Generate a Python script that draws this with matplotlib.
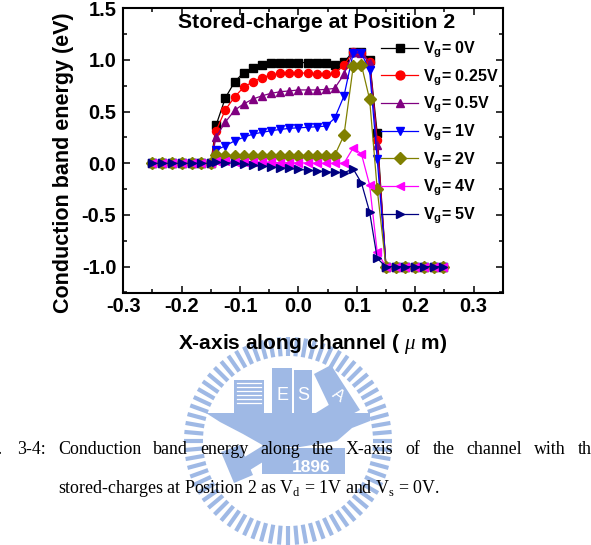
import matplotlib
matplotlib.use("Agg")
import matplotlib.pyplot as plt
from matplotlib.patches import Polygon, Rectangle
from matplotlib.ticker import MultipleLocator
import numpy as np

plt.rcParams['font.family'] = ['Liberation Sans', 'DejaVu Sans']
plt.rcParams['mathtext.fontset'] = 'custom'
plt.rcParams['mathtext.rm'] = 'Liberation Serif'
plt.rcParams['mathtext.it'] = 'Liberation Serif:italic'
plt.rcParams['mathtext.bf'] = 'Liberation Sans:bold'
plt.rcParams['mathtext.default'] = 'bf'

# position along the channel (um)
x_um = [-0.25, -0.233, -0.217, -0.2, -0.183, -0.167, -0.15,
        -0.141, -0.125, -0.109, -0.094, -0.078, -0.062, -0.047, -0.031, -0.016,
        0.0, 0.016, 0.031, 0.047, 0.062, 0.078, 0.094, 0.108, 0.122, 0.135,
        0.15, 0.167, 0.183, 0.2, 0.216, 0.232, 0.247]

# conduction band energy (eV) for each gate voltage
ec_0v = [0, 0, 0, 0, 0, 0, 0,
         0.37, 0.635, 0.79, 0.877, 0.925, 0.955, 0.967, 0.973, 0.975,
         0.975, 0.975, 0.97, 0.967, 0.955, 0.98, 1.08, 1.08, 1.0, 0.29,
         -1.0, -1.0, -1.0, -1.0, -1.0, -1.0, -1.0]
ec_025v = [0, 0, 0, 0, 0, 0, 0,
           0.315, 0.52, 0.644, 0.735, 0.79, 0.83, 0.855, 0.87, 0.877,
           0.877, 0.87, 0.865, 0.86, 0.87, 0.95, 1.08, 1.07, 0.98, 0.225,
           -1.0, -1.0, -1.0, -1.0, -1.0, -1.0, -1.0]
ec_05v = [0, 0, 0, 0, 0, 0, 0,
          0.257, 0.40, 0.515, 0.574, 0.622, 0.654, 0.677, 0.693, 0.70,
          0.71, 0.71, 0.71, 0.715, 0.725, 0.86, 1.08, 1.07, 0.97, 0.18,
          -1.0, -1.0, -1.0, -1.0, -1.0, -1.0, -1.0]
ec_1v = [0, 0, 0, 0, 0, 0, 0,
         0.128, 0.17, 0.218, 0.251, 0.283, 0.30, 0.315, 0.328, 0.338,
         0.344, 0.348, 0.354, 0.36, 0.435, 0.65, 1.07, 1.065, 0.90, 0.04,
         -1.0, -1.0, -1.0, -1.0, -1.0, -1.0, -1.0]
ec_2v = [0, 0, 0, 0, 0, 0, 0,
         0.08, 0.075, 0.073, 0.073, 0.073, 0.073, 0.073, 0.073, 0.073,
         0.073, 0.073, 0.073, 0.073, 0.075, 0.27, 0.94, 0.95, 0.62, -0.25,
         -1.0, -1.0, -1.0, -1.0, -1.0, -1.0, -1.0]
ec_4v = [0, 0, 0, 0, 0, 0, 0,
         0.02, 0.018, 0.015, 0.013, 0.012, 0.01, 0.008, 0.006, 0.005,
         0.004, 0.003, 0.002, 0.0, 0.0, 0.0, 0.15, 0.09, -0.21, -0.86,
         -1.0, -1.0, -1.0, -1.0, -1.0, -1.0, -1.0]
ec_5v = [0, 0, 0, 0, 0, 0, 0,
         0.01, 0.006, 0.0, -0.01, -0.017, -0.026, -0.033, -0.043, -0.049,
         -0.059, -0.065, -0.075, -0.081, -0.088, -0.09, -0.055, -0.19, -0.47, -0.92,
         -1.0, -1.0, -1.0, -1.0, -1.0, -1.0, -1.0]

series = [ec_0v, ec_025v, ec_05v, ec_1v, ec_2v, ec_4v, ec_5v]
labels = ['V$_g$= 0V', 'V$_g$= 0.25V', 'V$_g$= 0.5V', 'V$_g$= 1V',
          'V$_g$= 2V', 'V$_g$= 4V', 'V$_g$= 5V']
colors = ['#000000', '#ff0000', '#800080', '#0000ff', '#808000', '#ff00ff', '#000080']
markers = ['s', 'o', '^', 'v', 'D', '<', '>']

xticks = [-0.3, -0.2, -0.1, 0.0, 0.1, 0.2, 0.3]
xtick_labels = ['-0.3', '-0.2', '-0.1', '0.0', '0.1', '0.2', '0.3']
yticks = [-1.0, -0.5, 0.0, 0.5, 1.0, 1.5]
ytick_labels = ['-1.0', '-0.5', '0.0', '0.5', '1.0', '1.5']

W, H = 591, 545
fig = plt.figure(figsize=(W / 100, H / 100), dpi=100)

# watermark logo in the background (pixel coords)
bg = fig.add_axes([0, 0, 1, 1], zorder=0)
bg.set_xlim(0, W)
bg.set_ylim(H, 0)
bg.axis('off')
logo = '#9fb9e5'
cx, cy = 288, 441
for a in np.linspace(0, 2 * np.pi, 72, endpoint=False):
    bg.plot([cx + 85 * np.cos(a), cx + 104 * np.cos(a)],
            [cy + 85 * np.sin(a), cy + 104 * np.sin(a)],
            color=logo, lw=3.0, solid_capstyle='butt')
bg.add_patch(Rectangle((234, 380), 30, 37, color=logo, lw=0))
for yy in range(383, 405, 4):
    bg.plot([237, 261], [yy, yy], color='white', lw=0.9)
bg.add_patch(Rectangle((272, 368), 20, 49, color=logo, lw=0))
bg.add_patch(Rectangle((294, 370), 18, 47, color=logo, lw=0))
bg.add_patch(Polygon([(314, 374), (331, 365), (360, 410), (337, 422)], color=logo, lw=0))
bg.text(282, 396, 'E', color='white', ha='center', va='center', fontsize=13)
bg.text(303, 396, 'S', color='white', ha='center', va='center', fontsize=13)
bg.text(338, 396, 'A', color='white', ha='center', va='center', fontsize=12, rotation=-35)
bg.add_patch(Polygon([(206, 413), (370, 413), (370, 421), (352, 428), (337, 441),
                      (300, 447), (266, 447), (243, 434), (220, 422)], color=logo, lw=0))
bg.add_patch(Polygon([(262, 448), (345, 448), (345, 474), (262, 474)], color=logo, lw=0))
bg.plot([240, 350], [468, 400], color=logo, lw=10, solid_capstyle='butt')
bg.add_patch(Polygon([(221, 452), (240, 445), (253, 475), (234, 483)], color=logo, lw=0))
bg.text(311, 468, '1896', color='white', ha='center', va='center', fontsize=12.5,
        fontweight='bold')

ax = fig.add_axes([123.3 / W, 1 - 292.5 / H, 379.4 / W, 284.2 / H], zorder=2)
ax.patch.set_alpha(0)

for ys, lab, c, m in zip(series, labels, colors, markers):
    ax.plot(x_um, ys, color=c, marker=m, markersize=5.8, lw=0.9, label=lab)

ax.set_xlim(-0.3, 0.35)
ax.set_ylim(-1.25, 1.5)
ax.set_xticks(xticks)
ax.set_xticklabels(xtick_labels)
ax.set_yticks(yticks)
ax.set_yticklabels(ytick_labels)
ax.xaxis.set_minor_locator(MultipleLocator(0.05))
ax.yaxis.set_minor_locator(MultipleLocator(0.25))
ax.tick_params(which='both', direction='in', top=True, right=True, width=1.1)
ax.tick_params(which='major', length=5, labelsize=14.5, pad=3)
ax.tick_params(which='minor', length=3)
ax.tick_params(axis='y', which='major', pad=5)
for t in ax.get_xticklabels() + ax.get_yticklabels():
    t.set_fontweight('bold')
for s in ax.spines.values():
    s.set_linewidth(1.5)

ax.set_xlabel(r'X-axis along channel ( $\mathit{\mu}$ m)', fontsize=15, fontweight='bold')
ax.xaxis.set_label_coords(0.5, -0.14)
ax.set_ylabel('Conduction band energy (eV)', fontsize=15.5, fontweight='bold')
ax.yaxis.set_label_coords(-0.13, 0.457)
ax.text(0.509, 0.9296, 'Stored-charge at Position 2', transform=ax.transAxes,
        ha='center', va='baseline', fontsize=15.3, fontweight='bold')

leg = ax.legend(loc='upper left', bbox_to_anchor=(0.68, 0.89), frameon=False,
                prop={'weight': 'bold', 'size': 11.5}, handlelength=2.3,
                handletextpad=0.3, labelspacing=0.44, borderpad=0, borderaxespad=0,
                markerscale=1.1)

# caption: first line is justified, so its words are spread with equal gaps
cap_kw = dict(family='Liberation Serif', fontsize=12.9, va='baseline', zorder=3)
fig.text(3 / W, 1 - 454 / H, 'Fig.', ha='right', **cap_kw)
fig.text(17 / W, 1 - 454 / H, '3-4:', ha='left', **cap_kw)
line1 = ['Conduction', 'band', 'energy', 'along', 'the', 'X-axis',
         'of', 'the', 'channel', 'with', 'the']
renderer = fig.canvas.get_renderer()
word_w = []
for w in line1:
    t = fig.text(0, 0, w, ha='left', **cap_kw)
    word_w.append(t.get_window_extent(renderer).width)
    t.remove()
gap = (346 - 58 - sum(word_w[:5])) / 5
xp = 58
for w, ww in zip(line1, word_w):
    fig.text(xp / W, 1 - 454 / H, w, ha='left', **cap_kw)
    xp += ww + gap
fig.text(58 / W, 1 - 493 / H,
         r'stored-charges at Position 2 as V$_\mathrm{d}$ = 1V and V$_\mathrm{s}$ = 0V.',
         ha='left', **cap_kw)

fig.savefig('out.png', dpi=100)
